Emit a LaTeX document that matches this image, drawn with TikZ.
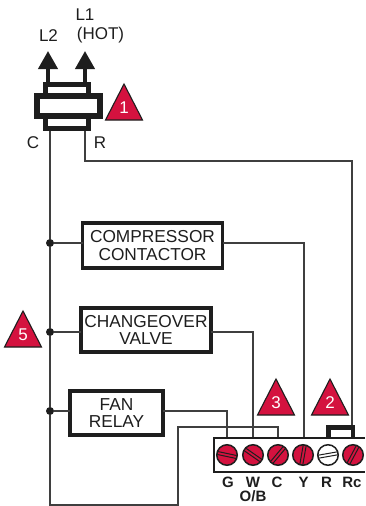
\documentclass[tikz,border=0pt]{standalone}
\usepackage{fontspec}
\setmainfont{Liberation Sans}
\definecolor{wirec}{HTML}{3F3F3F}
\definecolor{inkc}{HTML}{1E1E1E}
\definecolor{crim}{HTML}{D4123F}
\tikzset{
  wire/.style={draw=wirec,line width=1.2pt},
  lab/.style={font=\fontsize{17}{18}\selectfont,text=inkc,inner sep=0pt,align=center},
  term/.style={font=\bfseries\fontsize{15}{15}\selectfont,text=inkc,inner sep=0pt},
  loadbox/.style={draw=inkc,line width=3.6pt,fill=white,inner sep=0pt,outer sep=0pt,align=center,
     font=\fontsize{17.3}{17.5}\selectfont,text=inkc},
  relaybox/.style={draw=inkc,line width=5.5pt,fill=white,inner sep=0pt,outer sep=0pt},
  junction/.style={circle,fill=inkc,inner sep=0pt,minimum size=8pt},
  warn/.style={draw=inkc,line width=1.1pt,fill=crim,line join=miter},
  warnnum/.style={text=white,font=\fontsize{17}{17}\selectfont,inner sep=0pt},
  screwhead/.style={circle,draw=inkc,line width=1.5pt,fill=crim,minimum size=20.5pt,inner sep=0pt,outer sep=0pt},
  slot/.style={draw=inkc,line width=1pt},
  power/.style={-{Triangle[length=18pt,width=19pt]},draw=inkc,line width=4pt},
}
\usetikzlibrary{arrows.meta}
\newcommand{\warntri}[4]{% name, apex x, base y, digit
  \draw[warn] (#2,#3-36) -- (#2-18.5,#3) -- (#2+18.5,#3) -- cycle;
  \node[warnnum] (#1) at (#2,#3-12) {#4};}
\newcommand{\screwpart}[4]{% name, x, angle, fill
  \node[screwhead,fill=#4] (#1) at (#2,455) {};
  \begin{scope}[shift={(#2,455)},rotate=#3]
    \draw[slot] (-10,-1.5) -- (10,-1.5);
    \draw[slot] (-10,1.5) -- (10,1.5);
  \end{scope}}
\begin{document}
\begin{tikzpicture}[x=1pt,y=-1pt]
\useasboundingbox[fill=white] (0,0) rectangle (365,506);

\coordinate (hotc) at (85,130);
\coordinate (comc) at (50,130);
\coordinate (rbend) at (85,161);
\coordinate (rdown) at (352,161);
\coordinate (jump) at (352,427.5);
\coordinate (busend) at (50,505);
\coordinate (cbot) at (178,505);
\coordinate (ctop) at (178,427);
\coordinate (cright) at (278,427);
\coordinate (gtop) at (227,411);
\coordinate (wtop) at (253,332);
\coordinate (ytop) at (304,243);
\coordinate (tG) at (227,440);
\coordinate (tW) at (253,440);
\coordinate (tC) at (278,440);
\coordinate (tY) at (304,440);

\node[junction] (j1) at (50,243) {};
\node[junction] (j2) at (50,332) {};
\node[junction] (j3) at (50,411) {};

\draw[wire] (comc) -- (j1) -- (j2) -- (j3) -- (busend) -- (cbot) -- (ctop) -- (cright) -- (tC);
\draw[wire] (hotc) -- (rbend) -- (rdown) -- (jump);

\node[loadbox,minimum width=140pt,minimum height=45.5pt] (comp) at (152.5,245.5) {COMPRESSOR\\CONTACTOR};
\node[loadbox,minimum width=130.5pt,minimum height=44.5pt] (valve) at (146,330) {CHANGEOVER\\VALVE};
\node[loadbox,minimum width=93.5pt,minimum height=44.5pt] (fan) at (116.5,413) {FAN\\RELAY};

\draw[wire] (j1) -- (comp.west |- j1);
\draw[wire] (j2) -- (valve.west |- j2);
\draw[wire] (j3) -- (fan.west |- j3);
\draw[wire] (comp.east |- ytop) -- (ytop) -- (tY);
\draw[wire] (valve.east |- wtop) -- (wtop) -- (tW);
\draw[wire] (fan.east |- gtop) -- (gtop) -- (tG);

% relay
\coordinate (arrL) at (48,51);
\coordinate (arrH) at (85,51);
\coordinate (baseL) at (48,84);
\coordinate (baseH) at (85,84);
\draw[power] (baseL) -- (arrL);
\draw[power] (baseH) -- (arrH);
\node[relaybox,minimum width=42.6pt,minimum height=43.6pt] (coil) at (67,106.5) {};
\node[relaybox,minimum width=63.4pt,minimum height=20pt] (core) at (68.5,106) {};

\node[lab] (l1) at (85,15) {L1};
\node[lab] (hot) at (100.5,35) {(HOT)};
\node[lab] (l2) at (48.5,36) {L2};
\node[lab] (cl) at (33,143) {C};
\node[lab] (rl) at (100,143) {R};

% jumper
\coordinate (jl) at (328.5,438);
\coordinate (jr) at (353,438);
\draw[draw=inkc,line width=4.7pt] (jl) |- (jump) -| (jr);

% terminal block
\draw[draw=inkc,line width=2pt,fill=white] (365,438) -- (213.5,438) -- (213.5,472) -- (365,472);
\screwpart{sG}{227}{-12}{crim}
\screwpart{sW}{253}{-35}{crim}
\screwpart{sC}{278}{50}{crim}
\screwpart{sY}{303}{80}{crim}
\screwpart{sR}{328}{10}{white}
\screwpart{sRc}{353}{62}{crim}

\node[term] (tgG) at (228,482) {G};
\node[term] (tgW) at (253,482) {W};
\node[term] (tgC) at (277,482) {C};
\node[term] (tgY) at (303.5,482) {Y};
\node[term] (tgR) at (326.5,482) {R};
\node[term] (tgRc) at (352,482) {Rc};
\node[term] (tgOB) at (253,496.5) {O/B};

\warntri{w1}{124}{120}{1}
\warntri{w5}{23}{347}{5}
\warntri{w3}{276}{415}{3}
\warntri{w2}{330}{415}{2}
\end{tikzpicture}
\end{document}
